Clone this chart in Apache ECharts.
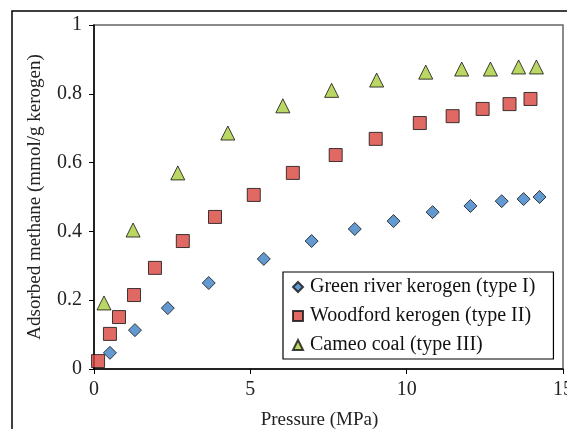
<!DOCTYPE html>
<html>
<head>
<meta charset="utf-8">
<script src="https://cdn.jsdelivr.net/npm/echarts@6/dist/echarts.min.js"></script>
<style>
  html, body { margin: 0; padding: 0; background: #fff; }
  #chart { width: 567px; height: 429px; }
</style>
</head>
<body>
<div id="chart"></div>
<script>
// pressure (MPa) / adsorbed methane (mmol/g kerogen)
const greenP = [0.51, 1.31, 2.36, 3.67, 5.43, 6.96, 8.34, 9.58, 10.83, 12.04, 13.04, 13.74, 14.25];
const greenQ = [0.047, 0.113, 0.177, 0.25, 0.32, 0.372, 0.407, 0.43, 0.456, 0.474, 0.488, 0.494, 0.5];

const woodP = [0.13, 0.51, 0.8, 1.28, 1.95, 2.84, 3.87, 5.11, 6.36, 7.73, 9.01, 10.42, 11.47, 12.43, 13.29, 13.96];
const woodQ = [0.023, 0.102, 0.151, 0.215, 0.294, 0.372, 0.442, 0.506, 0.57, 0.622, 0.669, 0.715, 0.735, 0.756, 0.77, 0.785];

const cameoP = [0.32, 1.25, 2.68, 4.28, 6.04, 7.6, 9.04, 10.61, 11.76, 12.68, 13.58, 14.15];
const cameoQ = [0.192, 0.404, 0.57, 0.686, 0.765, 0.81, 0.84, 0.863, 0.872, 0.872, 0.878, 0.878];

const seriesNames = ["Green river kerogen (type I)", "Woodford kerogen (type II)", "Cameo coal (type III)"];

const font = "'Liberation Serif', 'DejaVu Serif', serif";
const zip = (xs, ys) => xs.map((x, i) => [x, ys[i]]);

const chart = echarts.init(document.getElementById("chart"));

const option = {
  animation: false,
  backgroundColor: "#fff",
  textStyle: { fontFamily: font },
  graphic: [
    {
      // outer frame of the figure
      type: "rect",
      shape: { x: 12, y: 11, width: 620, height: 500 },
      style: { fill: "none", stroke: "#000", lineWidth: 1.5 },
      z: 0,
    },
  ],
  grid: {
    left: 94,
    top: 25,
    right: 4,
    bottom: 60,
    outerBoundsMode: "none",
    containLabel: false,
    show: true,
    borderColor: "#666",
    borderWidth: 1.5,
  },
  legend: {
    orient: "vertical",
    left: 283,
    top: 272,
    data: seriesNames,
    borderColor: "#000",
    borderWidth: 1.2,
    backgroundColor: "#fff",
    padding: [5, 18, 4, 9],
    itemGap: 9,
    itemWidth: 10,
    itemHeight: 10,
    textStyle: { fontFamily: font, fontSize: 20, color: "#111", padding: [0, 0, 0, 2] },
  },
  xAxis: {
    type: "value",
    min: 0,
    max: 15,
    interval: 5,
    name: "Pressure (MPa)",
    nameLocation: "middle",
    nameGap: 42,
    nameTextStyle: { fontFamily: font, fontSize: 19, color: "#222", padding: [0, 18, 0, 0] },
    axisLine: { onZero: false, lineStyle: { color: "#000", width: 1.5 } },
    axisTick: { show: true, length: 5, lineStyle: { color: "#000" } },
    axisLabel: { fontFamily: font, fontSize: 20, color: "#222", margin: 11 },
    splitLine: { show: false },
  },
  yAxis: {
    type: "value",
    min: 0,
    max: 1,
    interval: 0.2,
    name: "Adsorbed methane (mmol/g kerogen)",
    nameLocation: "middle",
    nameGap: 49,
    nameTextStyle: { fontFamily: font, fontSize: 19, color: "#222" },
    axisLine: { show: true, lineStyle: { color: "#000", width: 1.5 } },
    axisTick: { show: true, length: 5, lineStyle: { color: "#000" } },
    axisLabel: { fontFamily: font, fontSize: 20, color: "#222", margin: 12 },
    splitLine: { show: false },
  },
  series: [
    {
      name: seriesNames[0],
      type: "scatter",
      symbol: "diamond",
      symbolSize: 13,
      itemStyle: { color: "#3b80c6", borderColor: "#111", borderWidth: 1 },
      data: zip(greenP, greenQ),
    },
    {
      name: seriesNames[1],
      type: "scatter",
      symbol: "rect",
      symbolSize: 13,
      itemStyle: { color: "#d9443d", borderColor: "#111", borderWidth: 1 },
      data: zip(woodP, woodQ),
    },
    {
      name: seriesNames[2],
      type: "scatter",
      symbol: "triangle",
      symbolSize: 14,
      itemStyle: { color: "#a9cc3c", borderColor: "#111", borderWidth: 1 },
      data: zip(cameoP, cameoQ),
    },
  ],
};

chart.setOption(option);
</script>
</body>
</html>
